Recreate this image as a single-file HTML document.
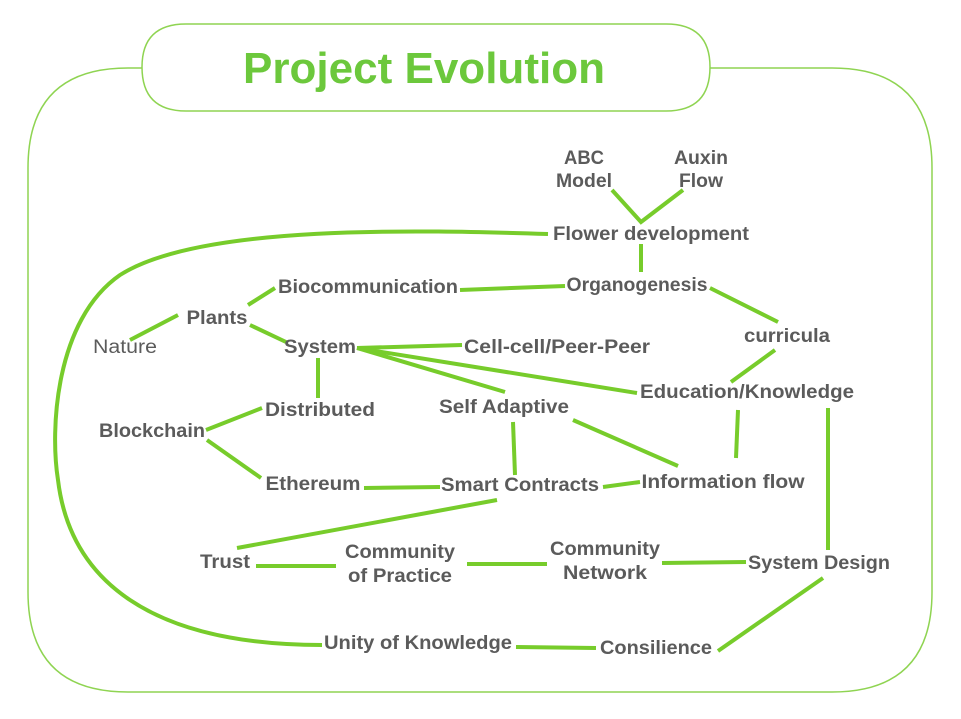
<!DOCTYPE html>
<html><head><meta charset="utf-8"><style>
html,body{margin:0;padding:0;background:#fff;}
svg{display:block}
text{font-family:"Liberation Sans",sans-serif;font-weight:bold;font-size:19px;fill:#5b5b5b;text-anchor:middle;}
.l{stroke:#77cc2b;stroke-width:4;fill:none;stroke-linecap:butt}
</style></head><body>
<svg width="961" height="719" viewBox="0 0 961 719" xmlns="http://www.w3.org/2000/svg">
<path d="M148,68 L128,68 Q28,68 28,168 L28,592 Q28,692 128,692 L832,692 Q932,692 932,592 L932,168 Q932,68 832,68 L708,68" stroke="#8fd452" stroke-width="1.5" fill="none"/>
<path d="M186,24 L666,24 Q710,24 710,67 Q710,111 666,111 L186,111 Q142,111 142,67 Q142,24 186,24 Z" stroke="#8fd452" stroke-width="1.5" fill="#fff"/>
<text x="424" y="83" style="font-size:44px;fill:#6cc83c;" textLength="362" lengthAdjust="spacingAndGlyphs">Project Evolution</text>

<g class="l">
<path d="M612,190 L641,222 L683,190"/>
<path d="M641,244 L641,272"/>
<path d="M548,234 C420,230 200,224 120,275 C55,320 50,430 58,480 C70,580 150,645 322,645"/>
<path d="M460,290 L565,286"/>
<path d="M710,288 L778,322"/>
<path d="M775,350 L731,382"/>
<path d="M248,305 L275,288"/>
<path d="M250,325 L286,342"/>
<path d="M130,340 L178,315"/>
<path d="M357,348 L462,345"/>
<path d="M357,348 L505,392"/>
<path d="M357,348 L637,393"/>
<path d="M318,358 L318,398"/>
<path d="M206,430 L262,408"/>
<path d="M207,440 L261,478"/>
<path d="M364,488 L440,487"/>
<path d="M603,487 L640,482"/>
<path d="M513,422 L515,475"/>
<path d="M573,420 L678,466"/>
<path d="M738,410 L736,458"/>
<path d="M828,408 L828,550"/>
<path d="M497,500 L237,548"/>
<path d="M256,566 L336,566"/>
<path d="M467,564 L547,564"/>
<path d="M662,563 L746,562"/>
<path d="M823,578 L718,651"/>
<path d="M516,647 L596,648"/>
</g>

<text x="584" y="164" textLength="40" lengthAdjust="spacingAndGlyphs">ABC</text>
<text x="584" y="187" textLength="56" lengthAdjust="spacingAndGlyphs">Model</text>
<text x="701" y="164" textLength="54" lengthAdjust="spacingAndGlyphs">Auxin</text>
<text x="701" y="187" textLength="44" lengthAdjust="spacingAndGlyphs">Flow</text>
<text x="651" y="240" textLength="196" lengthAdjust="spacingAndGlyphs">Flower development</text>
<text x="637" y="291" textLength="141" lengthAdjust="spacingAndGlyphs">Organogenesis</text>
<text x="368" y="293" textLength="180" lengthAdjust="spacingAndGlyphs">Biocommunication</text>
<text x="217" y="324" textLength="61" lengthAdjust="spacingAndGlyphs">Plants</text>
<text x="125" y="353" style="font-weight:normal" textLength="64" lengthAdjust="spacingAndGlyphs">Nature</text>
<text x="320" y="353" textLength="72" lengthAdjust="spacingAndGlyphs">System</text>
<text x="557" y="353" textLength="186" lengthAdjust="spacingAndGlyphs">Cell-cell/Peer-Peer</text>
<text x="787" y="342" textLength="86" lengthAdjust="spacingAndGlyphs">curricula</text>
<text x="747" y="398" textLength="214" lengthAdjust="spacingAndGlyphs">Education/Knowledge</text>
<text x="320" y="416" textLength="110" lengthAdjust="spacingAndGlyphs">Distributed</text>
<text x="504" y="413" textLength="130" lengthAdjust="spacingAndGlyphs">Self Adaptive</text>
<text x="152" y="437" textLength="106" lengthAdjust="spacingAndGlyphs">Blockchain</text>
<text x="313" y="490" textLength="95" lengthAdjust="spacingAndGlyphs">Ethereum</text>
<text x="520" y="491" textLength="158" lengthAdjust="spacingAndGlyphs">Smart Contracts</text>
<text x="723" y="488" textLength="163" lengthAdjust="spacingAndGlyphs">Information flow</text>
<text x="225" y="568" textLength="50" lengthAdjust="spacingAndGlyphs">Trust</text>
<text x="400" y="558" textLength="110" lengthAdjust="spacingAndGlyphs">Community</text>
<text x="400" y="582" textLength="104" lengthAdjust="spacingAndGlyphs">of Practice</text>
<text x="605" y="555" textLength="110" lengthAdjust="spacingAndGlyphs">Community</text>
<text x="605" y="579" textLength="84" lengthAdjust="spacingAndGlyphs">Network</text>
<text x="819" y="569" textLength="142" lengthAdjust="spacingAndGlyphs">System Design</text>
<text x="418" y="649" textLength="188" lengthAdjust="spacingAndGlyphs">Unity of Knowledge</text>
<text x="656" y="654" textLength="112" lengthAdjust="spacingAndGlyphs">Consilience</text>
</svg>
</body></html>
